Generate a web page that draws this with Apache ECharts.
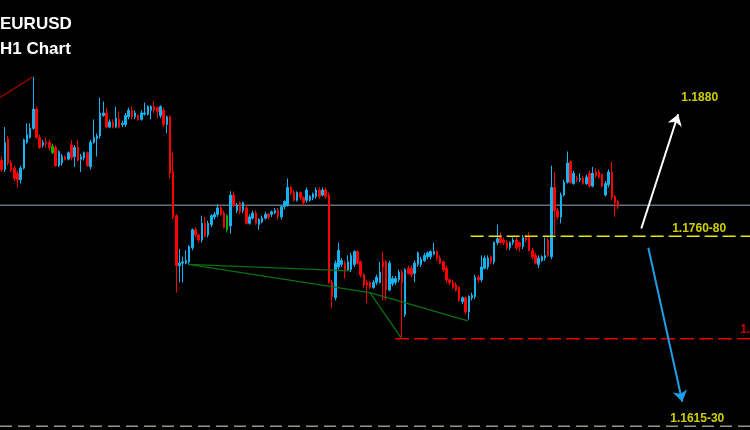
<!DOCTYPE html>
<html>
<head>
<meta charset="utf-8">
<script src="https://cdn.jsdelivr.net/npm/echarts@6/dist/echarts.min.js"></script>
<style>html,body{margin:0;padding:0;background:#000;}#c{width:750px;height:430px;}</style>
</head>
<body>
<div id="c"></div>
<script>
// EURUSD H1 candles (prices)
const open = [
1.1829,1.1822,1.1846,1.1827,1.1823,1.1819,1.1814,1.1823,1.1843,1.1847,1.1854,1.1869,1.1847,1.1841,1.1843,
1.1843,1.1835,1.1839,1.1825,1.1827,1.1832,1.1830,1.1841,1.1832,1.1839,1.1830,1.1831,1.1835,1.1824,1.1843,
1.1846,1.1848,1.1864,1.1866,1.1855,1.1859,1.1855,1.1861,1.1857,1.1857,1.1863,1.1868,1.1863,1.1864,1.1861,
1.1865,1.1865,1.1868,1.1871,1.1870,1.1864,1.1868,1.1857,1.1863,1.1820,1.1786,1.1747,1.1749,1.1749,1.1750,
1.1761,1.1775,1.1771,1.1767,1.1780,1.1771,1.1779,1.1785,1.1787,1.1792,1.1788,1.1775,1.1778,1.1802,1.1790,
1.1796,1.1790,1.1792,1.1780,1.1784,1.1788,1.1779,1.1781,1.1784,1.1787,1.1787,1.1788,1.1790,1.1785,1.1793,
1.1794,1.1808,1.1804,1.1798,1.1804,1.1800,1.1798,1.1798,1.1800,1.1801,1.1806,1.1802,1.1806,1.1802,1.1734,
1.1722,1.1746,1.1748,1.1749,1.1744,1.1744,1.1748,1.1758,1.1750,1.1740,1.1734,1.1734,1.1730,1.1734,1.1734,
1.1750,1.1750,1.1728,1.1733,1.1734,1.1736,1.1742,1.1709,1.1745,1.1745,1.1741,1.1748,1.1748,1.1751,1.1754,
1.1754,1.1756,1.1758,1.1753,1.1750,1.1745,1.1736,1.1734,1.1732,1.1730,1.1719,1.1722,1.1711,1.1722,1.1723,
1.1738,1.1736,1.1745,1.1746,1.1754,1.1750,1.1765,1.1769,1.1767,1.1765,1.1761,1.1765,1.1767,1.1765,1.1762,
1.1769,1.1769,1.1759,1.1755,1.1748,1.1751,1.1753,1.1767,1.1754,1.1808,1.1790,1.1785,1.1802,1.1812,1.1828,
1.1811,1.1815,1.1814,1.1815,1.1811,1.1819,1.1809,1.1820,1.1820,1.1818,1.1802,1.1810,1.1820,1.1801,1.1797
];
const close = [
1.1822,1.1843,1.1827,1.1822,1.1815,1.1814,1.1823,1.1845,1.1849,1.1854,1.1869,1.1847,1.1839,1.1843,1.1842,
1.1839,1.1840,1.1825,1.1836,1.1832,1.1830,1.1835,1.1831,1.1839,1.1829,1.1832,1.1835,1.1825,1.1843,1.1847,
1.1848,1.1866,1.1866,1.1855,1.1859,1.1855,1.1862,1.1855,1.1858,1.1864,1.1868,1.1863,1.1866,1.1861,1.1866,
1.1866,1.1871,1.1871,1.1868,1.1867,1.1871,1.1857,1.1863,1.1819,1.1785,1.1747,1.1749,1.1750,1.1751,1.1762,
1.1775,1.1771,1.1767,1.1780,1.1770,1.1780,1.1786,1.1787,1.1792,1.1787,1.1777,1.1786,1.1802,1.1794,1.1794,
1.1789,1.1796,1.1780,1.1785,1.1788,1.1780,1.1783,1.1784,1.1787,1.1785,1.1789,1.1790,1.1785,1.1793,1.1797,
1.1808,1.1804,1.1798,1.1804,1.1800,1.1796,1.1806,1.1801,1.1803,1.1806,1.1801,1.1806,1.1801,1.1734,1.1723,
1.1749,1.1759,1.1751,1.1744,1.1750,1.1755,1.1758,1.1749,1.1740,1.1732,1.1732,1.1730,1.1734,1.1738,1.1742,
1.1746,1.1728,1.1749,1.1737,1.1737,1.1742,1.1734,1.1744,1.1741,1.1740,1.1749,1.1757,1.1752,1.1755,1.1757,
1.1758,1.1758,1.1753,1.1749,1.1744,1.1736,1.1734,1.1730,1.1728,1.1720,1.1722,1.1711,1.1723,1.1724,1.1738,
1.1736,1.1746,1.1753,1.1753,1.1750,1.1765,1.1768,1.1765,1.1765,1.1761,1.1765,1.1767,1.1761,1.1762,1.1769,
1.1767,1.1759,1.1754,1.1749,1.1753,1.1754,1.1755,1.1755,1.1808,1.1790,1.1785,1.1802,1.1812,1.1827,1.1812,
1.1819,1.1814,1.1815,1.1811,1.1816,1.1809,1.1819,1.1817,1.1816,1.1809,1.1811,1.1820,1.1800,1.1796,1.1793
];
const low = [
1.1820,1.1820,1.1825,1.1820,1.1813,1.1808,1.1811,1.1822,1.1842,1.1846,1.1853,1.1846,1.1838,1.1839,1.1839,
1.1837,1.1834,1.1824,1.1824,1.1825,1.1829,1.1829,1.1829,1.1824,1.1828,1.1820,1.1829,1.1824,1.1822,1.1842,
1.1832,1.1846,1.1863,1.1854,1.1854,1.1854,1.1854,1.1854,1.1855,1.1855,1.1861,1.1861,1.1861,1.1860,1.1860,
1.1864,1.1864,1.1861,1.1866,1.1862,1.1862,1.1855,1.1850,1.1815,1.1783,1.1726,1.1734,1.1734,1.1748,1.1748,
1.1759,1.1769,1.1765,1.1765,1.1769,1.1769,1.1777,1.1783,1.1785,1.1786,1.1776,1.1773,1.1772,1.1793,1.1788,
1.1787,1.1788,1.1779,1.1779,1.1783,1.1779,1.1775,1.1780,1.1783,1.1783,1.1785,1.1787,1.1783,1.1783,1.1791,
1.1793,1.1802,1.1797,1.1797,1.1798,1.1794,1.1796,1.1797,1.1798,1.1799,1.1799,1.1801,1.1799,1.1733,1.1714,
1.1720,1.1744,1.1746,1.1737,1.1743,1.1742,1.1746,1.1748,1.1738,1.1730,1.1718,1.1729,1.1729,1.1732,1.1733,
1.1720,1.1720,1.1727,1.1731,1.1732,1.1734,1.1691,1.1707,1.1740,1.1738,1.1734,1.1746,1.1746,1.1750,1.1752,
1.1752,1.1755,1.1751,1.1748,1.1742,1.1734,1.1732,1.1729,1.1727,1.1719,1.1717,1.1709,1.1705,1.1720,1.1721,
1.1734,1.1734,1.1744,1.1744,1.1748,1.1748,1.1763,1.1764,1.1763,1.1759,1.1759,1.1763,1.1759,1.1758,1.1760,
1.1765,1.1758,1.1752,1.1748,1.1745,1.1750,1.1751,1.1754,1.1752,1.1771,1.1783,1.1780,1.1801,1.1811,1.1811,
1.1810,1.1812,1.1812,1.1810,1.1810,1.1808,1.1808,1.1815,1.1815,1.1808,1.1801,1.1808,1.1798,1.1785,1.1791
];
const high = [
1.1832,1.1855,1.1848,1.1829,1.1825,1.1821,1.1825,1.1846,1.1858,1.1858,1.1894,1.1871,1.1849,1.1845,1.1847,
1.1845,1.1842,1.1841,1.1837,1.1834,1.1833,1.1836,1.1845,1.1841,1.1845,1.1834,1.1836,1.1836,1.1845,1.1861,
1.1850,1.1878,1.1875,1.1870,1.1861,1.1861,1.1871,1.1867,1.1860,1.1866,1.1870,1.1871,1.1868,1.1865,1.1868,
1.1874,1.1872,1.1872,1.1875,1.1871,1.1872,1.1870,1.1864,1.1864,1.1835,1.1787,1.1760,1.1754,1.1759,1.1763,
1.1776,1.1777,1.1772,1.1786,1.1785,1.1782,1.1787,1.1789,1.1795,1.1794,1.1790,1.1787,1.1805,1.1805,1.1796,
1.1797,1.1797,1.1794,1.1787,1.1790,1.1790,1.1784,1.1786,1.1789,1.1788,1.1790,1.1792,1.1792,1.1794,1.1798,
1.1815,1.1809,1.1806,1.1805,1.1805,1.1801,1.1808,1.1802,1.1804,1.1808,1.1808,1.1808,1.1808,1.1804,1.1736,
1.1751,1.1765,1.1753,1.1751,1.1755,1.1757,1.1759,1.1759,1.1751,1.1741,1.1736,1.1735,1.1736,1.1740,1.1750,
1.1758,1.1751,1.1751,1.1739,1.1739,1.1744,1.1744,1.1745,1.1747,1.1747,1.1751,1.1758,1.1754,1.1757,1.1758,
1.1759,1.1765,1.1759,1.1755,1.1751,1.1747,1.1737,1.1736,1.1734,1.1731,1.1723,1.1723,1.1724,1.1726,1.1740,
1.1740,1.1755,1.1755,1.1755,1.1755,1.1766,1.1779,1.1773,1.1769,1.1767,1.1766,1.1769,1.1769,1.1766,1.1771,
1.1771,1.1773,1.1761,1.1757,1.1755,1.1755,1.1769,1.1769,1.1825,1.1820,1.1792,1.1804,1.1814,1.1836,1.1829,
1.1821,1.1817,1.1819,1.1817,1.1818,1.1821,1.1824,1.1823,1.1822,1.1819,1.1813,1.1822,1.1828,1.1802,1.1798
];
// candles drawn in green on the chart (0-based index)
const greenCandles = [16, 71];

// horizontal levels
const currentPrice = 1.1794;
const resistanceZone = 1.1770;   // 1.1760-80
const supportLevel = 1.1690;
const targetLow = 1.1622;        // 1.1615-30
const resistanceStart = 147.6;   // bar index where the yellow line starts
const supportStart = 123.8;      // bar index where the red line starts

// trend lines: [bar index, price]
const redTrend = [[-0.5, 1.1878], [9.7, 1.1894]];
const greenTrendA = [[58.8, 1.1748], [109.7, 1.1743]];
const greenTrendB = [[58.8, 1.1748], [115.9, 1.1726], [146.7, 1.1704]];
const greenTrendC = [[115.9, 1.1726], [125.7, 1.1691]];
const upArrow = [[201.3, 1.1776], [212.9, 1.1865]];
const downArrow = [[203.5, 1.1761], [214.2, 1.1641]];

// text labels: [bar index, price, text]
const yellowLabels = [[213.9, 1.1878, '1.1880'], [211.0, 1.1776, '1.1760-80'], [210.4, 1.1628, '1.1615-30']];
const redLabels = [[232.4, 1.1697, '1.1690']];

const totalSlots = 236;
const categories = Array.from({length: totalSlots}, (_, i) => String(i));
const ff = '"Liberation Sans", Arial, sans-serif';

const candleData = open.map((o, i) => {
  const v = [o, close[i], low[i], high[i]];
  if (greenCandles.includes(i)) {
    return {value: v, itemStyle: {color: '#00b400', color0: '#00b400', borderColor: '#00b400', borderColor0: '#00b400'}};
  }
  return v;
});

function lineSeries(data, color, width, type, z) {
  return {
    type: 'line', xAxisIndex: 1, yAxisIndex: 0, data: data, symbol: 'none', silent: true,
    lineStyle: {color: color, width: width, type: type || 'solid'}, z: z || 3, animation: false
  };
}

const chart = echarts.init(document.getElementById('c'), null, {renderer: 'canvas'});
chart.setOption({
  backgroundColor: '#000000',
  animation: false,
  title: [
    {text: 'EURUSD', left: 0, top: 16, padding: 0, textStyle: {color: '#ffffff', fontSize: 17, fontWeight: 'bold', fontFamily: ff}},
    {text: 'H1 Chart', left: 0, top: 41, padding: 0, textStyle: {color: '#ffffff', fontSize: 17, fontWeight: 'bold', fontFamily: ff}}
  ],
  grid: {left: -1, right: -1, top: 0, bottom: 0},
  xAxis: [
    {type: 'category', data: categories, show: false, boundaryGap: true},
    {type: 'value', min: -0.5, max: totalSlots - 0.5, show: false}
  ],
  yAxis: {type: 'value', min: 1.1619, max: 1.1954, show: false, splitLine: {show: false}},
  series: [
    lineSeries([[-0.5, currentPrice], [totalSlots - 0.5, currentPrice]], '#66717f', 1.5, 'solid', 1),
    {
      type: 'candlestick', xAxisIndex: 0, yAxisIndex: 0, data: candleData, barWidth: 2, z: 2,
      itemStyle: {color: '#16b2f0', color0: '#ff0000', borderColor: '#16b2f0', borderColor0: '#ff0000', borderWidth: 1}
    },
    lineSeries([[-0.5, targetLow], [totalSlots - 0.5, targetLow]], '#e6e6cc', 1, [12, 6]),
    lineSeries([[resistanceStart, resistanceZone], [totalSlots - 0.5, resistanceZone]], '#e8e800', 1.5, [13, 5]),
    lineSeries([[supportStart, supportLevel], [totalSlots - 0.5, supportLevel]], '#e00000', 1.5, [14, 5]),
    lineSeries(redTrend, '#a80000', 1.2),
    lineSeries(greenTrendA, '#0b7010', 1.3),
    lineSeries(greenTrendB, '#0b7010', 1.3),
    lineSeries(greenTrendC, '#0b7010', 1.3),
    {
      type: 'lines', coordinateSystem: 'cartesian2d', xAxisIndex: 1, yAxisIndex: 0, polyline: false,
      symbol: ['none', 'arrow'], symbolSize: 11, silent: true, z: 5,
      data: [
        {coords: upArrow, lineStyle: {color: '#ffffff', width: 2}},
        {coords: downArrow, lineStyle: {color: '#1e9ee6', width: 2}}
      ],
      lineStyle: {opacity: 1, curveness: 0}
    },
    {
      type: 'scatter', xAxisIndex: 1, yAxisIndex: 0, symbolSize: 0, silent: true, z: 6,
      data: yellowLabels.map(d => ({value: [d[0], d[1]], name: d[2]})),
      label: {show: true, position: 'right', distance: 0, formatter: p => p.name, color: '#ffff00', fontSize: 12, fontWeight: 'bold', fontFamily: ff}
    },
    {
      type: 'scatter', xAxisIndex: 1, yAxisIndex: 0, symbolSize: 0, silent: true, z: 6,
      data: redLabels.map(d => ({value: [d[0], d[1]], name: d[2]})),
      label: {show: true, position: 'right', distance: 0, formatter: p => p.name, color: '#ff0000', fontSize: 12, fontWeight: 'bold', fontFamily: ff}
    }
  ]
});
</script>
</body>
</html>
